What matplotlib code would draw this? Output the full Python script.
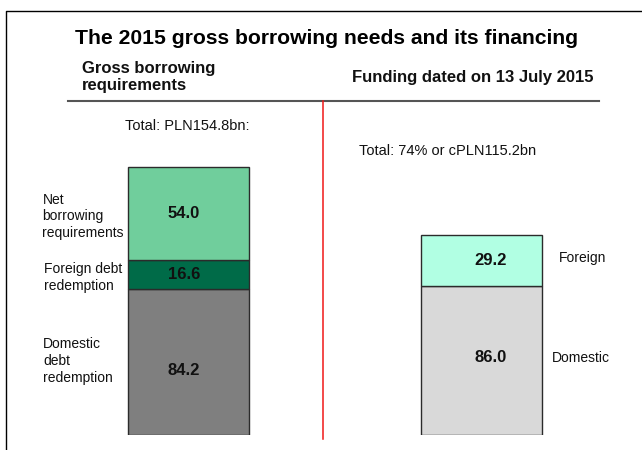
import matplotlib
matplotlib.use("Agg")
import matplotlib.pyplot as plt
from matplotlib.lines import Line2D

plt.rcParams['font.family'] = ['Liberation Sans', 'DejaVu Sans']

# Data (PLN bn)
needs_labels = ["Domestic\ndebt\nredemption", "Foreign debt\nredemption", "Net\nborrowing\nrequirements"]
needs_values = [84.2, 16.6, 54.0]
needs_colors = ["#7f7f7f", "#006b48", "#70ce9c"]

funding_labels = ["Domestic", "Foreign"]
funding_values = [86.0, 29.2]
funding_colors = ["#d9d9d9", "#b1ffe3"]

title = "The 2015 gross borrowing needs and its financing"
left_header = "Gross borrowing\nrequirements"
right_header = "Funding dated on 13 July 2015"
left_total = "Total: PLN154.8bn:"
right_total = "Total: 74% or cPLN115.2bn"

# where inside each segment its value label sits (fraction of segment height)
needs_label_frac = [0.44, 0.5, 0.5]
funding_label_frac = [0.52, 0.5]

W, H = 642, 450
fig = plt.figure(figsize=(W / 100, H / 100), dpi=100)


def fp(x, y):
    """Pixel position (from top-left) to figure fraction."""
    return x / W, 1 - y / H


# Axes holding both stacked bars
y0_px, ppu = 434.5, 1.73
ymax = 160
ax = fig.add_axes([0, (H - y0_px) / H, 1, ymax * ppu / H])
unit = 292.5
ax.set_xlim(-188.5 / unit, (W - 188.5) / unit)
ax.set_ylim(0, ymax)
ax.axis("off")
bw = 121 / unit


def stack(xpos, values, colors, fracs, dx):
    bottom = 0
    for v, c, f in zip(values, colors, fracs):
        ax.bar(xpos, v, bottom=bottom, width=bw, color=c,
               edgecolor="#2b2b2b", linewidth=1.0)
        ax.text(xpos + dx, bottom + v * f, f"{v:.1f}", ha="center", va="center",
                fontsize=12, fontweight="bold", color="#111111")
        bottom += v


stack(0, needs_values, needs_colors, needs_label_frac, -0.015)
stack(1, funding_values, funding_colors, funding_label_frac, 0.032)

# Category labels beside the bars
left_label_pos = [(43, 361), (44, 277.5), (42.5, 216.5)]
for lab, (x, y) in zip(needs_labels, left_label_pos):
    fig.text(*fp(x, y), lab, ha="left", va="center", fontsize=10,
             linespacing=1.25, color="#111111")
right_label_pos = [(552, 358), (559, 258)]
for lab, (x, y) in zip(funding_labels, right_label_pos):
    fig.text(*fp(x, y), lab, ha="left", va="center", fontsize=10, color="#111111")

# Titles and totals
fig.text(*fp(327, 38), title, ha="center", va="center", fontsize=15.2,
         fontweight="bold", color="#000000")
fig.text(*fp(82, 77), left_header, ha="left", va="center", fontsize=12,
         fontweight="bold", linespacing=1.2, color="#111111")
fig.text(*fp(594, 77.5), right_header, ha="right", va="center", fontsize=12,
         fontweight="bold", color="#111111")
fig.text(*fp(187, 126), left_total, ha="center", va="center", fontsize=10.5,
         color="#111111")
fig.text(*fp(359, 151), right_total, ha="left", va="center", fontsize=10.5,
         color="#111111")


# Frame and separators
def pline(xs, ys, **kw):
    fx = [x / W for x in xs]
    fy = [1 - y / H for y in ys]
    fig.add_artist(Line2D(fx, fy, transform=fig.transFigure, **kw))


pline([6, 6, W], [H, 10.5, 10.5], color="#000000", linewidth=1.0)
pline([68, 599], [100.5, 100.5], color="#555555", linewidth=1.5)
pline([322.7, 322.7], [101, 439], color="#f01818", linewidth=1.1)

fig.savefig("out.png", dpi=100)
